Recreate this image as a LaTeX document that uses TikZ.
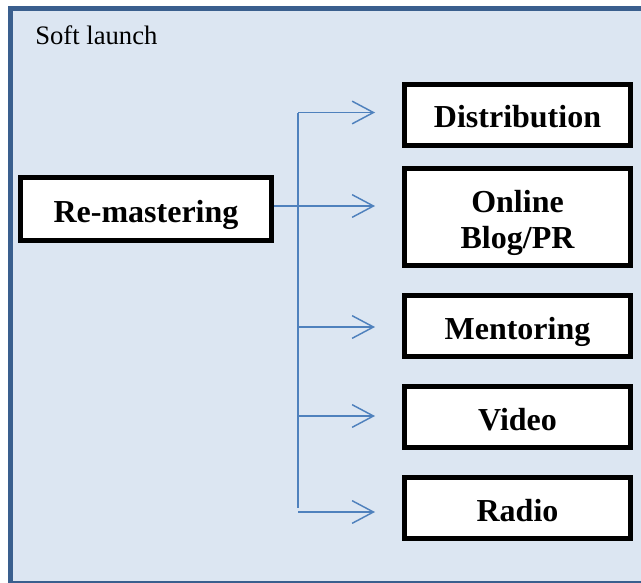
\documentclass[tikz,border=0pt]{standalone}
\usepackage{fontspec}
\setmainfont{Liberation Serif}
\usetikzlibrary{arrows.meta}
\definecolor{bgblue}{HTML}{DCE6F2}
\definecolor{frameblue}{HTML}{3A5F8E}
\definecolor{arrowblue}{HTML}{4F81BD}
\tikzset{
  labelbox/.style={draw=black, fill=white, line width=3.75pt, minimum width=169.5pt,
    minimum height=45.75pt, inner sep=0pt, align=center, text height=23pt, text depth=3.5pt,
    font=\fontsize{24}{27}\selectfont\bfseries},
  conn/.style={draw=arrowblue, line width=1.1pt},
  arr/.style={conn, -{Straight Barb[length=16pt,width=17pt]}}
}
\begin{document}
\begin{tikzpicture}[x=0.75pt,y=-0.75pt]
\useasboundingbox (0,0) rectangle (641,582);
\begin{scope}
\clip (0,0) rectangle (641,582);
\draw[fill=bgblue, draw=frameblue, line width=4pt] (10.5,8.5) rectangle (660,583.5);
\end{scope}
\node[anchor=base west, inner sep=0pt, font=\fontsize{20}{24}\selectfont] (title) at (35,44) {Soft launch};
\node[labelbox, minimum width=188.25pt, minimum height=47.25pt] (rem) at (146,209) {Re-mastering};
\node[labelbox] (dist) at (517.5,114.5) {Distribution};
\node[labelbox, minimum height=72.75pt, text height=50pt] (blog) at (517.5,217) {Online\\Blog/PR};
\node[labelbox] (ment) at (517.5,326) {Mentoring};
\node[labelbox] (vid) at (517.5,417) {Video};
\node[labelbox] (rad) at (517.5,508) {Radio};
\coordinate (j) at (298,206);
\coordinate (b1) at (298,112.5);
\coordinate (b3) at (298,327);
\coordinate (b4) at (298,416);
\coordinate (b5) at (298,508);
\coordinate (b6) at (298,512);
\coordinate (t1) at (375,112.5);
\coordinate (t2) at (375,206);
\coordinate (t3) at (375,327);
\coordinate (t4) at (375,416);
\coordinate (t5) at (375,512);
\draw[conn] (b1) -- (b5);
\draw[conn] (rem.east |- j) -- (j);
\draw[arr] (b1) -- (t1);
\draw[arr] (j) -- (t2);
\draw[arr] (b3) -- (t3);
\draw[arr] (b4) -- (t4);
\draw[arr] (b6) -- (t5);
\end{tikzpicture}
\end{document}
